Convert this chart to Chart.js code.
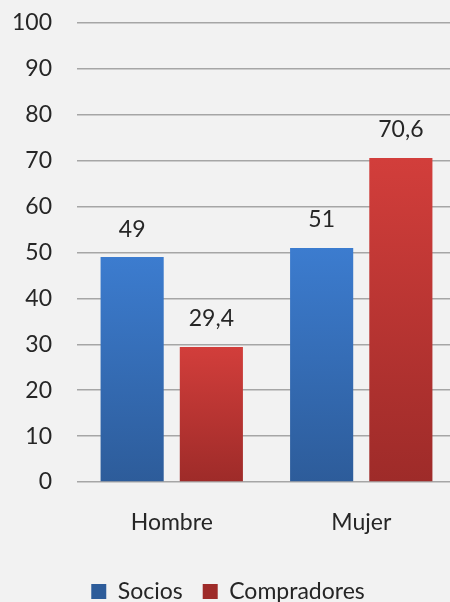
<!DOCTYPE html>
<html>
<head>
<meta charset="utf-8">
<script src="https://cdn.jsdelivr.net/npm/chart.js@4"></script>
<style>
  html, body { margin: 0; padding: 0; background: #f2f2f2; overflow: hidden; }
  #wrap { width: 456px; height: 602px; overflow: hidden; }
</style>
</head>
<body>
<div id="wrap"><canvas id="genderChart" width="456" height="613"></canvas></div>
<script>
const categories = ['Hombre', 'Mujer'];
const socios = [49, 51];
const compradores = [29.4, 70.6];
const yTicks = [0, 10, 20, 30, 40, 50, 60, 70, 80, 90, 100];

const FONT = 'Lato';
const FONT_SIZE = 23;

// vertical gradient per bar, light at the top
function barGradient(top, bottom) {
    return (context) => {
        const chart = context.chart;
        const { ctx, chartArea, scales } = chart;
        if (!chartArea || context.raw === undefined) return top;
        const yTop = scales.y.getPixelForValue(context.raw);
        const yBottom = scales.y.getPixelForValue(0);
        const g = ctx.createLinearGradient(0, yTop, 0, yBottom);
        g.addColorStop(0, top);
        g.addColorStop(1, bottom);
        return g;
    };
}

const valueLabels = {
    id: 'valueLabels',
    afterDatasetsDraw(chart) {
        const { ctx } = chart;
        ctx.save();
        ctx.font = FONT_SIZE + 'px ' + FONT;
        ctx.fillStyle = '#262626';
        ctx.textAlign = 'center';
        ctx.textBaseline = 'middle';
        chart.data.datasets.forEach((ds, i) => {
            chart.getDatasetMeta(i).data.forEach((bar, j) => {
                const text = String(ds.data[j]).replace('.', ',');
                ctx.fillText(text, bar.x, bar.y - 28);
            });
        });
        ctx.restore();
    }
};

new Chart(document.getElementById('genderChart'), {
    type: 'bar',
    data: {
        labels: categories,
        datasets: [{
            label: 'Socios',
            data: socios,
            backgroundColor: barGradient('#3c7ccf', '#2d5c9a'),
            borderWidth: 0
        }, {
            label: 'Compradores',
            data: compradores,
            backgroundColor: barGradient('#d23e3b', '#9e2b29'),
            borderWidth: 0
        }]
    },
    options: {
        responsive: false,
        animation: false,
        layout: { padding: { top: 23, bottom: 0 } },
        categoryPercentage: 0.836,
        barPercentage: 0.797,
        scales: {
            x: {
                grid: { display: false },
                border: { display: false },
                afterFit: (scale) => { scale.height = 78; },
                ticks: { color: '#262626', font: { family: FONT, size: FONT_SIZE }, padding: 19 }
            },
            y: {
                min: 0,
                max: 100,
                afterBuildTicks: (scale) => { scale.ticks = yTicks.map(v => ({ value: v })); },
                afterFit: (scale) => {
                    scale.width = 77;
                    scale.paddingTop = 0;
                    scale.paddingBottom = 0;
                },
                grid: { color: '#a6a6a6', lineWidth: 1.5, drawTicks: false },
                border: { display: false },
                ticks: { color: '#262626', font: { family: FONT, size: FONT_SIZE }, padding: 25 }
            }
        },
        plugins: {
            tooltip: { enabled: false },
            legend: {
                position: 'bottom',
                labels: {
                    color: '#262626',
                    font: { family: FONT, size: FONT_SIZE },
                    boxWidth: 15,
                    boxHeight: 15,
                    padding: 20
                }
            }
        }
    },
    plugins: [valueLabels]
});
</script>
</body>
</html>
